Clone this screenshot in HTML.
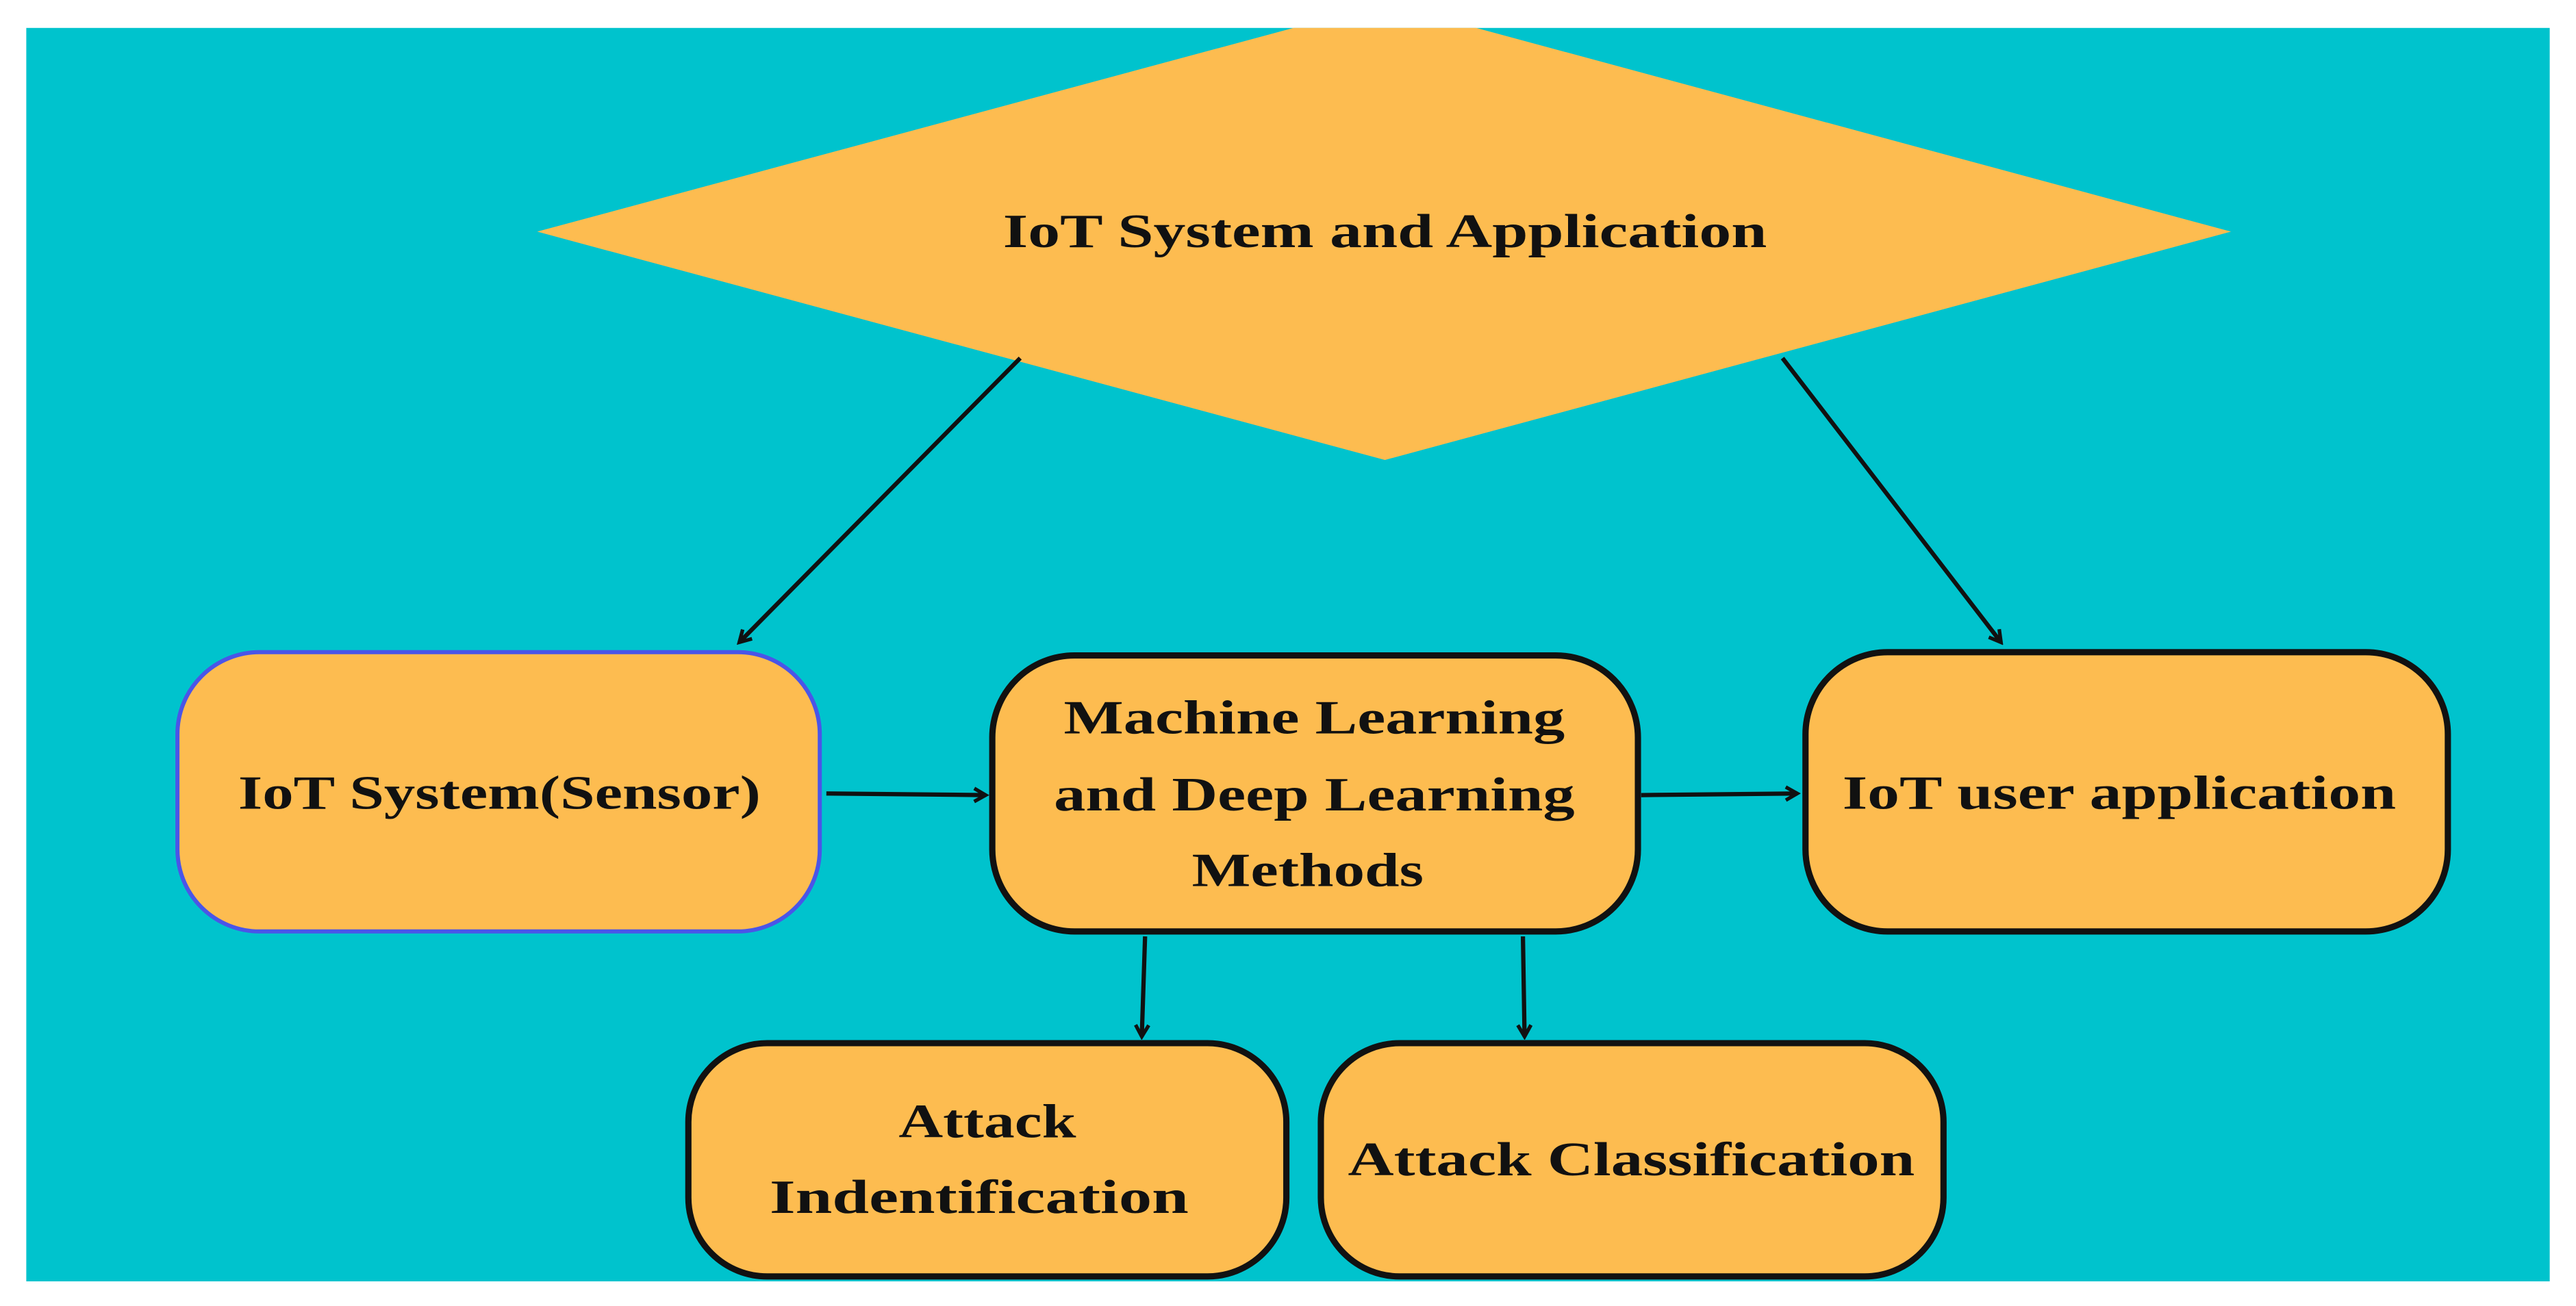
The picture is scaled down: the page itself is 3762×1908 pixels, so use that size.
<!DOCTYPE html>
<html><head><meta charset="utf-8"><style>
html,body{margin:0;padding:0;background:#fff;}
svg{display:block;}
text{font-family:"Liberation Serif",serif;font-size:29px;fill:#111;text-anchor:middle;dominant-baseline:central;font-weight:bold;}
</style></head><body>
<svg width="3762" height="1908" viewBox="0 0 1568 795" preserveAspectRatio="none" xmlns="http://www.w3.org/2000/svg">
<defs>
<clipPath id="c"><rect x="16" y="17" width="1536" height="763"/></clipPath>
<marker id="a" markerWidth="10" markerHeight="10" refX="8" refY="5" orient="auto" markerUnits="userSpaceOnUse"><path d="M1,1 L8,5 L1,9" fill="none" stroke="#111" stroke-width="2.2"/></marker>
</defs>
<rect x="0" y="0" width="1568" height="795" fill="#fff"/>
<rect x="16" y="17" width="1536" height="763" fill="#00C3CD"/>
<polygon clip-path="url(#c)" points="327,141 843,2 1358,141 843,280" fill="#FDBC50"/>
<text x="843" y="141" textLength="465" lengthAdjust="spacingAndGlyphs">IoT System and Application</text>
<g stroke="#111" stroke-width="2.6" fill="none" marker-end="url(#a)">
<line x1="621" y1="218" x2="450" y2="391"/>
<line x1="1085" y1="218" x2="1218" y2="391"/>
<line x1="503" y1="483" x2="600" y2="484"/>
<line x1="999" y1="484" x2="1094" y2="483"/>
<line x1="697" y1="570" x2="695" y2="631"/>
<line x1="927" y1="570" x2="928" y2="631"/>
</g>
<rect x="108" y="397" width="391" height="170" rx="50" fill="#FDBC50" stroke="#4A55E8" stroke-width="2.5"/>
<rect x="604" y="399" width="393" height="168" rx="50" fill="#FDBC50" stroke="#111" stroke-width="3.8"/>
<rect x="1099" y="397" width="391" height="170" rx="50" fill="#FDBC50" stroke="#111" stroke-width="3.8"/>
<rect x="419" y="635" width="364" height="142" rx="48" fill="#FDBC50" stroke="#111" stroke-width="3.8"/>
<rect x="804" y="635" width="379" height="142" rx="48" fill="#FDBC50" stroke="#111" stroke-width="3.8"/>
<text x="304" y="483" textLength="318" lengthAdjust="spacingAndGlyphs">IoT System(Sensor)</text>
<text x="800" y="437" textLength="305" lengthAdjust="spacingAndGlyphs">Machine Learning</text>
<text x="800" y="484" textLength="317" lengthAdjust="spacingAndGlyphs">and Deep Learning</text>
<text x="796" y="530" textLength="141" lengthAdjust="spacingAndGlyphs">Methods</text>
<text x="1290" y="483" textLength="337" lengthAdjust="spacingAndGlyphs">IoT user application</text>
<text x="601" y="683" textLength="108" lengthAdjust="spacingAndGlyphs">Attack</text>
<text x="596" y="729" textLength="255" lengthAdjust="spacingAndGlyphs">Indentification</text>
<text x="993" y="706" textLength="345" lengthAdjust="spacingAndGlyphs">Attack Classification</text>
</svg>
</body></html>
